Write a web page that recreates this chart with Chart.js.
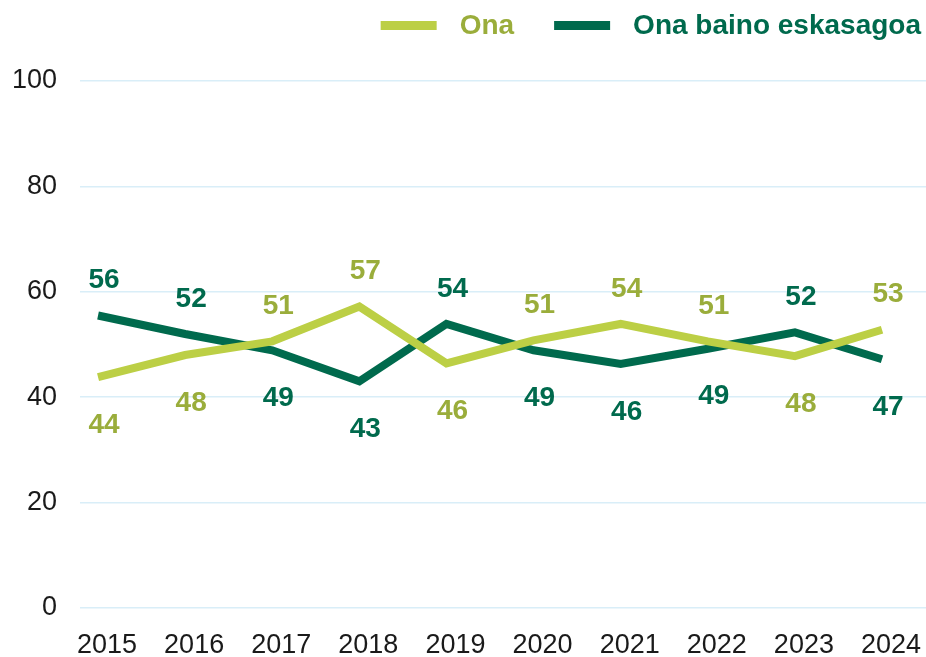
<!DOCTYPE html>
<html>
<head>
<meta charset="utf-8">
<script src="https://cdn.jsdelivr.net/npm/chart.js@4"></script>
<style>
  html, body { margin: 0; padding: 0; background: #fff; }
  #wrap { width: 926px; height: 657px; }
</style>
</head>
<body>
<div id="wrap"><canvas id="grafikoa"></canvas></div>
<script>
// urteak eta balioak (%)
const urteak = [2015, 2016, 2017, 2018, 2019, 2020, 2021, 2022, 2023, 2024];
const ona = [43.8, 48.0, 50.6, 57.2, 46.4, 50.8, 53.9, 50.6, 47.8, 52.8];
const onaBainoEskasagoa = [55.5, 52.0, 48.9, 43.0, 53.9, 48.9, 46.3, 49.2, 52.3, 47.2];
const ardatzY = [0, 20, 40, 60, 80, 100];

const kolOna = '#bccf45';
const kolOnaTestua = '#9aad3b';
const kolIluna = '#006a4d';
const letra = "'Liberation Sans', Arial, sans-serif";

// balioen etiketak: goian seriea handiagoa bada, bestela behean
const etiketak = {
    id: 'etiketak',
    afterDatasetsDraw(chart) {
        const ctx = chart.ctx;
        const ds = chart.data.datasets;
        ctx.save();
        ctx.font = 'bold 28px ' + letra;
        ctx.textAlign = 'center';
        ctx.textBaseline = 'middle';
        ds.forEach(function (d, i) {
            const besteak = ds[1 - i].data;
            chart.getDatasetMeta(i).data.forEach(function (p, j) {
                const goian = d.data[j] >= besteak[j];
                ctx.fillStyle = d.etiketaKolorea;
                ctx.fillText(Math.round(d.data[j]), p.x + 6, p.y + (goian ? -35 : 48));
            });
        });
        ctx.restore();
    }
};

// legenda eskuinean goian
const legenda = {
    id: 'legenda',
    afterDraw(chart) {
        const ctx = chart.ctx;
        const ds = chart.data.datasets;
        ctx.save();
        ctx.font = 'bold 28px ' + letra;
        ctx.textBaseline = 'middle';
        let x = 921;
        for (let i = ds.length - 1; i >= 0; i--) {
            const w = ctx.measureText(ds[i].label).width;
            x -= w;
            ctx.fillStyle = ds[i].etiketaKolorea;
            ctx.fillText(ds[i].label, x, 26);
            x -= 23 + 56;
            ctx.fillStyle = ds[i].borderColor;
            ctx.fillRect(x, 21, 56, 9);
            x -= 40;
        }
        ctx.restore();
    }
};

new Chart(document.getElementById('grafikoa').getContext('2d'), {
    type: 'line',
    data: {
        labels: urteak,
        datasets: [{
            label: 'Ona',
            data: ona,
            borderColor: kolOna,
            backgroundColor: kolOna,
            etiketaKolorea: kolOnaTestua,
            borderWidth: 8,
            pointRadius: 0,
            tension: 0,
            fill: false
        }, {
            label: 'Ona baino eskasagoa',
            data: onaBainoEskasagoa,
            borderColor: kolIluna,
            backgroundColor: kolIluna,
            etiketaKolorea: kolIluna,
            borderWidth: 8,
            pointRadius: 0,
            tension: 0,
            fill: false
        }]
    },
    options: {
        responsive: true,
        maintainAspectRatio: false,
        animation: false,
        layout: { padding: { top: 81, right: 0, bottom: 0, left: 0 } },
        plugins: {
            legend: { display: false },
            tooltip: { enabled: false }
        },
        scales: {
            x: {
                type: 'linear',
                min: 2014.793,
                max: 2024.505,
                border: { display: false },
                grid: { display: false, drawTicks: false },
                afterFit: function (s) {
                    s.height = 49;
                    s.paddingLeft = 0;
                    s.paddingRight = 0;
                },
                ticks: {
                    stepSize: 1,
                    includeBounds: false,
                    autoSkip: false,
                    maxRotation: 0,
                    padding: 21,
                    labelOffset: 9,
                    color: '#1a1a1a',
                    font: { family: letra, size: 27 },
                    callback: function (v) { return urteak.includes(v) ? String(v) : ''; }
                }
            },
            y: {
                min: ardatzY[0],
                max: ardatzY[ardatzY.length - 1],
                border: { display: false },
                grid: { color: '#d9eef8', lineWidth: 1.5, drawTicks: false },
                afterFit: function (s) { s.width = 80; },
                afterBuildTicks: function (s) { s.ticks = ardatzY.map(function (v) { return { value: v }; }); },
                ticks: {
                    padding: 23,
                    color: '#1a1a1a',
                    font: { family: letra, size: 27 }
                }
            }
        }
    },
    plugins: [etiketak, legenda]
});
</script>
</body>
</html>
